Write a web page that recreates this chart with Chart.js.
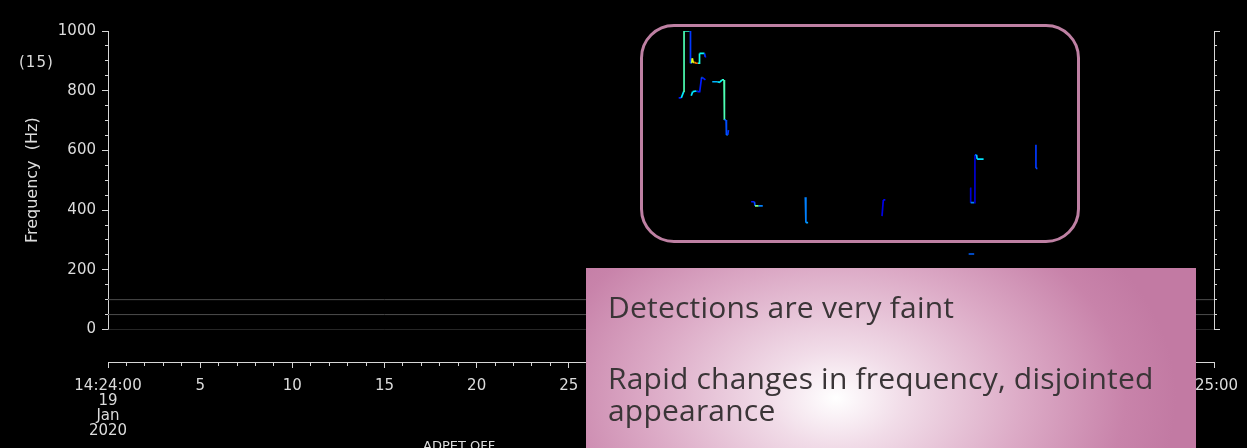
<!DOCTYPE html>
<html lang="en">
<head>
<meta charset="UTF-8">
<title>Frequency detections, 19 Jan 2020</title>
<script src="https://cdn.jsdelivr.net/npm/chart.js"></script>
<style>
  html, body { margin: 0; padding: 0; background: #000; overflow: hidden; }
  #wrap { position: relative; width: 1247px; height: 448px; overflow: hidden; }
  canvas { position: absolute; left: 0; top: 0; }
  .lbl { position: absolute; font-family: 'DejaVu Sans', sans-serif; font-size: 15px; line-height: 15px; color: #dcdcdc; white-space: nowrap; }
  #zoomBox { position: absolute; left: 640px; top: 24px; width: 440px; height: 219px; box-sizing: border-box;
             border: 3px solid rgb(190, 128, 163); border-radius: 34px; }
  #note { position: absolute; left: 586px; top: 268px; width: 610px; height: 180px;
          background: radial-gradient(ellipse 340px 240px at 250px 130px, #ffffff 0%, #f1dce8 20%, #dcaac6 55%, #c883aa 85%, #c27aa3 100%);
          font-family: 'Open Sans', sans-serif; font-size: 30px; letter-spacing: 0.2px; color: #3a3537; }
  #note p { position: absolute; left: 22px; margin: 0; line-height: 33px; white-space: nowrap; }
</style>
</head>
<body>
<div id="wrap">
  <canvas id="freqChart" width="1247" height="448"></canvas>
  <span class="lbl" style="left:19px; top:55px; letter-spacing:1px;">(15)</span>
  <span class="lbl" style="left:423px; top:438px; font-size:13px;">ADPET OFF</span>
  <div id="zoomBox"></div>
  <div id="note">
    <p style="top:22px;">Detections are very faint</p>
    <p style="top:93px;">Rapid changes in frequency, disjointed</p>
    <p style="top:125px;">appearance</p>
  </div>
</div>

<script>
// seconds after 14:24:00 UT, frequency in Hz, relative power (0..1)
const burst1Time  = [30.96, 31.10, 31.22, 31.25, 31.25, 31.54, 31.60, 31.60, 31.66, 31.70, 31.74, 31.82, 31.90, 32.00, 32.07, 32.09, 32.36, 32.40, 32.45];
const burst1Freq  = [776,   776,   795,   795,   1000,  1000,  1000,  892,   892,   908,   895,   895,   892,   892,   892,   925,   925,   913,   913];
const burst1Power = [0.15,  0.15,  0.35,  0.35,  0.45,  0.42,  0.30,  0.18,  0.20,  0.55,  0.62,  0.60,  0.75,  0.78,  0.40,  0.40,  0.38,  0.18,  0.15];

const burst2Time  = [31.64, 31.72, 31.91, 31.98, 32.10, 32.20, 32.25, 32.41];
const burst2Freq  = [783,   797,   799,   797,   797,   844,   844,   836];
const burst2Power = [0.20,  0.35,  0.36,  0.20,  0.15,  0.15,  0.30,  0.15];

const burst3Time  = [32.78, 33.05, 33.20, 33.30, 33.42, 33.44, 33.53, 33.55, 33.62, 33.66];
const burst3Freq  = [830,   830,   828,   836,   836,   702,   702,   652,   652,   668];
const burst3Power = [0.15,  0.30,  0.35,  0.38,  0.42,  0.45,  0.22,  0.20,  0.25,  0.18];

const burst4Time  = [34.89, 35.07, 35.10, 35.30, 35.52];
const burst4Freq  = [428,   428,   414,   414,   414];
const burst4Power = [0.15,  0.15,  0.20,  0.50,  0.25];

const burst5Time  = [37.83, 37.86, 37.86, 37.98];
const burst5Freq  = [443,   443,   358,   358];
const burst5Power = [0.25,  0.25,  0.25,  0.28];

const burst6Time  = [41.99, 42.06, 42.17];
const burst6Freq  = [380,   434,   434];
const burst6Power = [0.10,  0.10,  0.12];

const burst7Time  = [46.76, 46.80, 46.80, 47.00, 47.03, 47.03, 47.12, 47.15, 47.50];
const burst7Freq  = [473,   473,   425,   425,   425,   585,   585,   571,   571];
const burst7Power = [0.08,  0.08,  0.08,  0.25,  0.08,  0.08,  0.20,  0.32,  0.35];

const burst8Time  = [46.69, 46.99];
const burst8Freq  = [253,   253];
const burst8Power = [0.20,  0.22];

const burst9Time  = [50.34, 50.34, 50.42];
const burst9Freq  = [619,   540,   540];
const burst9Power = [0.18,  0.18,  0.20];

// faint constant bands near the bottom of the band (Hz)
const bandLevels = [0, 50, 100];

const yTickLabels = ['0', '200', '400', '600', '800', '1000'];
const xTickLabels = [['14:24:00', '19', 'Jan', '2020'], '5', '10', '15', '20', '25', '30',
                     '35', '40', '45', '50', '55', '14:25:00'];

const axisColor = '#d6d6d6';
const textColor = '#dcdcdc';

Chart.defaults.font.family = "'DejaVu Sans', sans-serif";
Chart.defaults.font.size = 15;
Chart.defaults.color = textColor;

// jet colour map, same as the spectrogram display
function jet(v) {
  const clip = x => Math.min(Math.max(x, 0), 1);
  const r = clip(Math.min(4 * v - 1.5, -4 * v + 4.5));
  const g = clip(Math.min(4 * v - 0.5, -4 * v + 3.5));
  const b = clip(Math.min(4 * v + 0.5, -4 * v + 2.5));
  return `rgb(${Math.round(r * 255)},${Math.round(g * 255)},${Math.round(b * 255)})`;
}

function trace(time, freq, power) {
  return {
    data: time.map((t, i) => ({ x: t, y: freq[i] })),
    borderColor: jet(power[0]),
    borderWidth: 1.7,
    pointRadius: 0,
    segment: { borderColor: ctx => jet(power[ctx.p1DataIndex]) }
  };
}

const datasets = bandLevels.map(f => ({
  data: [{ x: 0, y: f }, { x: 60, y: f }],
  borderColor: '#4c4c4c',
  borderWidth: 1,
  pointRadius: 0
}));

datasets.push(
  trace(burst1Time, burst1Freq, burst1Power),
  trace(burst2Time, burst2Freq, burst2Power),
  trace(burst3Time, burst3Freq, burst3Power),
  trace(burst4Time, burst4Freq, burst4Power),
  trace(burst5Time, burst5Freq, burst5Power),
  trace(burst6Time, burst6Freq, burst6Power),
  trace(burst7Time, burst7Freq, burst7Power),
  trace(burst8Time, burst8Freq, burst8Power),
  trace(burst9Time, burst9Freq, burst9Power)
);

// time axis sits a little below the plot, at this frequency
const timeAxisAt = { y: -109 };

const tickGrid = len => ({ drawOnChartArea: false, tickLength: len, color: axisColor });
const border = { color: axisColor, width: 1 };
const noPad = s => { s.paddingLeft = 0; s.paddingRight = 0; };

const myChart = new Chart(document.getElementById('freqChart'), {
  type: 'line',
  data: { datasets },
  options: {
    responsive: false,
    animation: false,
    events: [],
    layout: { padding: { left: 0, right: 0, top: 31, bottom: 118.5 } },
    plugins: { legend: { display: false }, tooltip: { enabled: false } },
    scales: {
      x: {
        type: 'linear', min: 0, max: 60, position: timeAxisAt,
        ticks: {
          stepSize: 5, autoSkip: false, minRotation: 0, maxRotation: 0, maxTicksLimit: 100,
          padding: 12, font: { size: 15, lineHeight: 1.0 }, color: textColor,
          // pad the last label so it stays on the canvas
          callback: (v, i) => i === 12 ? xTickLabels[i] + '    ' : xTickLabels[i]
        },
        grid: tickGrid(5), border, afterFit: noPad
      },
      xMinor: {
        type: 'linear', axis: 'x', min: 0, max: 60, position: timeAxisAt,
        ticks: { stepSize: 1, display: false, autoSkip: false, maxTicksLimit: 100 },
        grid: tickGrid(3), border, afterFit: noPad
      },
      y: {
        type: 'linear', position: 'left', min: 0, max: 1000,
        ticks: { stepSize: 200, padding: 6, color: textColor, maxTicksLimit: 100,
                 callback: (v, i) => yTickLabels[i] },
        grid: tickGrid(6), border,
        title: { display: true, text: 'Frequency  (Hz)', color: textColor,
                 font: { size: 16 }, padding: { top: 23, bottom: 0 } },
        afterFit: s => { s.width = 108; }
      },
      yMinor: {
        type: 'linear', axis: 'y', position: { x: 0 }, min: 0, max: 1000,
        ticks: { stepSize: 50, display: false, maxTicksLimit: 100 },
        grid: tickGrid(3), border
      },
      yRight: {
        type: 'linear', position: 'right', min: 0, max: 1000,
        ticks: { stepSize: 200, display: false, maxTicksLimit: 100 },
        grid: tickGrid(6), border,
        afterFit: s => { s.width = 33; }
      },
      // negative length turns the minor ticks outward on the right edge
      yRightMinor: {
        type: 'linear', axis: 'y', position: { x: 60 }, min: 0, max: 1000,
        ticks: { stepSize: 50, display: false, maxTicksLimit: 100 },
        grid: tickGrid(-3), border
      }
    }
  }
});
</script>
</body>
</html>
